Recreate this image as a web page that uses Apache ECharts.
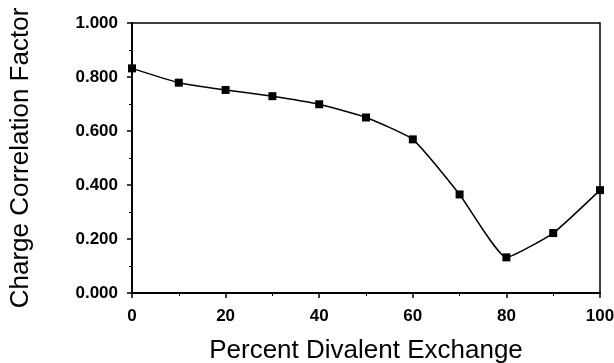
<!DOCTYPE html>
<html>
<head>
<meta charset="utf-8">
<script src="https://cdn.jsdelivr.net/npm/echarts@6/dist/echarts.min.js"></script>
<style>
  html, body { margin: 0; padding: 0; background: #fff; }
  #chart { width: 614px; height: 363px; }
</style>
</head>
<body>
<div id="chart"></div>
<script>
  // percent divalent exchange vs charge correlation factor
  var exchange = [0, 10, 20, 30, 40, 50, 60, 70, 80, 90, 100];
  var factor = [0.832, 0.779, 0.752, 0.729, 0.699, 0.650, 0.569, 0.365, 0.132, 0.222, 0.381];

  var points = [];
  for (var i = 0; i < exchange.length; i++) {
    points.push([exchange[i], factor[i]]);
  }

  var chart = echarts.init(document.getElementById('chart'));
  chart.setOption({
    animation: false,
    grid: {
      left: 132, right: 14, top: 23, bottom: 70,
      outerBoundsMode: 'none',
      show: true, borderColor: '#000', borderWidth: 1.5
    },
    xAxis: {
      type: 'value', min: 0, max: 100, interval: 20,
      name: 'Percent Divalent Exchange',
      nameLocation: 'middle', nameGap: 45,
      nameTextStyle: { fontFamily: 'Liberation Sans', fontSize: 26, color: '#000' },
      axisLine: { lineStyle: { color: '#000', width: 1.8 } },
      axisTick: { show: true, length: 5, lineStyle: { color: '#000', width: 1.5 } },
      minorTick: { show: true, splitNumber: 2, length: 3, lineStyle: { color: '#000' } },
      splitLine: { show: false },
      axisLabel: { margin: 15, fontFamily: 'Liberation Sans', fontWeight: 'bold', fontSize: 17, color: '#000' }
    },
    yAxis: {
      type: 'value', min: 0, max: 1, interval: 0.2,
      name: 'Charge Correlation Factor',
      nameLocation: 'middle', nameGap: 98,
      nameTextStyle: { fontFamily: 'Liberation Sans', fontSize: 26, color: '#000' },
      axisLine: { show: true, lineStyle: { color: '#000', width: 1.8 } },
      axisTick: { show: true, length: 5, lineStyle: { color: '#000', width: 1.5 } },
      minorTick: { show: true, splitNumber: 2, length: 3, lineStyle: { color: '#000' } },
      splitLine: { show: false },
      axisLabel: {
        margin: 14, fontFamily: 'Liberation Sans', fontWeight: 'bold', fontSize: 17, color: '#000',
        formatter: function (v) { return v.toFixed(3); }
      }
    },
    series: [{
      type: 'line',
      data: points,
      smooth: 0.15,
      symbol: 'rect',
      symbolSize: 8,
      itemStyle: { color: '#000' },
      lineStyle: { color: '#000', width: 1.5 }
    }]
  });
</script>
</body>
</html>
